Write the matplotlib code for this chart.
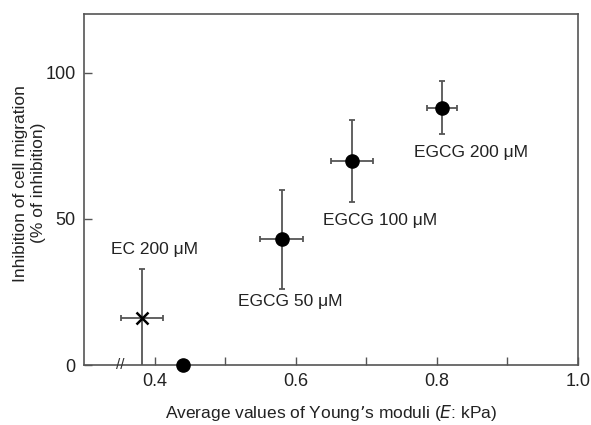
import matplotlib
matplotlib.use('Agg')
import matplotlib.pyplot as plt

plt.rcParams['font.family'] = ['Liberation Sans', 'DejaVu Sans']

# EGCG points
egcg_x = [0.44, 0.58, 0.68, 0.807]
egcg_y = [0, 43, 69.7, 88]
egcg_xerr = [0, 0.03, 0.03, 0.021]
egcg_yerr = [0, 17, 14, 9]

# EC point
ec_x = [0.382]
ec_y = [16]
ec_xerr = [0.03]
ec_yerr = [17]

labels = ['EC 200 μM', 'EGCG 50 μM', 'EGCG 100 μM', 'EGCG 200 μM']
label_pos = [(0.40, 39.5), (0.593, 21.6), (0.72, 49.5), (0.848, 72.5)]

gray = '#555555'

fig = plt.figure(figsize=(5.91, 4.25), dpi=100)
ax = fig.add_axes([0.142, 0.141, 0.836, 0.826])

ax.errorbar(egcg_x[1:], egcg_y[1:], xerr=egcg_xerr[1:], yerr=egcg_yerr[1:],
            fmt='none', ecolor=gray, elinewidth=1.3, capsize=2.5, capthick=1.3)
ax.plot(egcg_x, egcg_y, 'o', color='black', markersize=9.5, clip_on=False, zorder=5)

ax.errorbar(ec_x, ec_y, xerr=ec_xerr, yerr=ec_yerr, fmt='none', ecolor=gray,
            elinewidth=1.3, capsize=2.5, capthick=1.3)
ax.plot(ec_x, ec_y, 'x', color='black', markersize=8, markeredgewidth=1.8, zorder=5)

for lab, (lx, ly) in zip(labels, label_pos):
    ax.text(lx, ly, lab, ha='center', va='center', fontsize=12.5, color='#222222')

# axis break mark
ax.text(0.352, 0, '//', ha='center', va='center', fontsize=11, color='#333333',
        clip_on=False)

ax.set_xlim(0.3, 1.0)
ax.set_ylim(0, 120)
ax.set_xticks([0.4, 0.5, 0.6, 0.7, 0.8, 0.9, 1.0])
ax.set_xticklabels(['0.4', '', '0.6', '', '0.8', '', '1.0'])
ax.set_yticks([0, 50, 100])
ax.tick_params(direction='in', length=6, width=1, colors=gray, labelsize=13,
               labelcolor='#222222', pad=6)

for s in ax.spines.values():
    s.set_color(gray)
    s.set_linewidth(1.2)

ax.set_xlabel('Average values of Young\u2019s moduli ($\\mathit{E}$: kPa)',
              fontsize=12.5, color='#222222', labelpad=9)
ax.set_ylabel('Inhibition of cell migration\n(% of inhibition)', fontsize=12.5,
              color='#222222', linespacing=1.2)
ax.yaxis.set_label_coords(-0.077, 0.518)

fig.savefig('out.png', dpi=100)
